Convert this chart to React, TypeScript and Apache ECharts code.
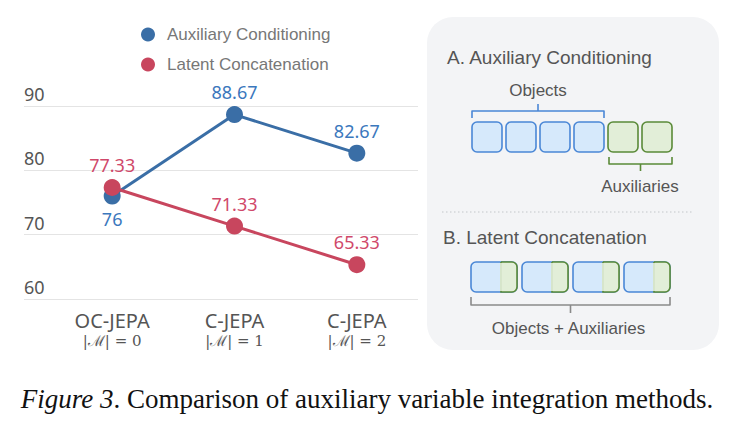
import { useEffect, useRef } from 'react';
import * as echarts from 'echarts';

// Accuracy per configuration
const categories = ['OC-JEPA', 'C-JEPA', 'C-JEPA'];
const auxiliaryCounts = [0, 1, 2];
const auxiliaryConditioning = [76, 88.67, 82.67];
const latentConcatenation = [77.33, 71.33, 65.33];
const seriesNames = ['Auxiliary Conditioning', 'Latent Concatenation'];
const yMin = 60;
const yMax = 90;
const yStep = 10;

// Token counts for the schematic panel
const objectSlots = 4;
const auxiliarySlots = 2;
const concatSlots = 4;
const panelTexts = {
  titleA: 'A. Auxiliary Conditioning',
  objects: 'Objects',
  auxiliaries: 'Auxiliaries',
  titleB: 'B. Latent Concatenation',
  combined: 'Objects + Auxiliaries',
};
const caption = 'Comparison of auxiliary variable integration methods.';

const BLUE = '#3a6ea6';
const BLUE_LABEL = '#3b78bd';
const RED = '#c8465e';
const RED_LABEL = '#d0486a';
const AXIS_TEXT = '#555555';
const SANS = '"Noto Sans", sans-serif';
const UI = '"Liberation Sans", Arial, sans-serif';
const SERIF = '"Liberation Serif", "Times New Roman", serif';

const TOKEN_BLUE_FILL = '#d6e9fb';
const TOKEN_BLUE_STROKE = '#4a87d6';
const TOKEN_GREEN_FILL = '#e2eed8';
const TOKEN_GREEN_STROKE = '#5a8a38';

function token(x: number, y: number, w: number, h: number, fill: string, stroke: string) {
  return {
    type: 'rect',
    shape: { x, y, width: w, height: h, r: 5 },
    style: { fill, stroke, lineWidth: 1.6 },
  };
}

function splitToken(x: number, y: number, w: number, h: number, split: number) {
  return [
    token(x, y, w, h, TOKEN_BLUE_FILL, TOKEN_BLUE_STROKE),
    {
      type: 'rect',
      shape: { x: x + split, y, width: w - split, height: h, r: [0, 5, 5, 0] },
      style: { fill: TOKEN_GREEN_FILL, stroke: TOKEN_GREEN_STROKE, lineWidth: 1.6 },
    },
    {
      type: 'rect',
      shape: { x: x + split - 0.9, y: y + 0.9, width: 1.8, height: h - 1.8 },
      style: { fill: TOKEN_GREEN_FILL },
    },
  ];
}

function brace(x1: number, x2: number, yEnd: number, yBar: number, yTip: number, color: string) {
  const mid = (x1 + x2) / 2;
  return [
    {
      type: 'polyline',
      shape: { points: [[x1, yEnd], [x1, yBar], [x2, yBar], [x2, yEnd]] },
      style: { stroke: color, lineWidth: 1.6, fill: null, lineJoin: 'round' },
    },
    {
      type: 'line',
      shape: { x1: mid, y1: yBar, x2: mid, y2: yTip },
      style: { stroke: color, lineWidth: 1.6 },
    },
  ];
}

function label(text: string, x: number, y: number, size: number, align = 'left') {
  return {
    type: 'text',
    x,
    y,
    style: {
      text,
      fill: AXIS_TEXT,
      fontSize: size,
      fontFamily: UI,
      align,
      verticalAlign: 'middle',
    },
  };
}

function buildPanel() {
  const els: any[] = [];
  els.push({
    type: 'rect',
    shape: { x: 427, y: 17, width: 292, height: 333, r: 26 },
    style: { fill: '#f3f4f6' },
  });
  els.push(label(panelTexts.titleA, 447, 57, 19));

  const tw = 30;
  const th = 30;
  const gap = 4;
  const rowA = 122;
  const startA = 472;
  const objEnd = startA + objectSlots * (tw + gap) - gap;
  els.push(label(panelTexts.objects, (startA + objEnd) / 2, 90, 17, 'center'));
  els.push(...brace(startA, objEnd, 118, 111, 104, TOKEN_BLUE_STROKE));
  for (let i = 0; i < objectSlots; i++) {
    els.push(token(startA + i * (tw + gap), rowA, tw, th, TOKEN_BLUE_FILL, TOKEN_BLUE_STROKE));
  }
  const auxStart = objEnd + gap;
  for (let i = 0; i < auxiliarySlots; i++) {
    els.push(token(auxStart + i * (tw + gap), rowA, tw, th, TOKEN_GREEN_FILL, TOKEN_GREEN_STROKE));
  }
  const auxEnd = auxStart + auxiliarySlots * (tw + gap) - gap;
  els.push(...brace(auxStart + 1, auxEnd, 157, 164, 171, TOKEN_GREEN_STROKE));
  els.push(label(panelTexts.auxiliaries, (auxStart + auxEnd) / 2, 186, 17, 'center'));

  els.push({
    type: 'line',
    shape: { x1: 442, y1: 212, x2: 693, y2: 212 },
    style: { stroke: '#c4c6ca', lineWidth: 1.2, lineDash: [1.5, 2.5] },
  });

  els.push(label(panelTexts.titleB, 443, 237, 19));
  const cw = 46;
  const cgap = 5;
  const rowB = 262;
  const startB = 471;
  for (let i = 0; i < concatSlots; i++) {
    els.push(...splitToken(startB + i * (cw + cgap), rowB, cw, th, 30));
  }
  const endB = startB + concatSlots * (cw + cgap) - cgap;
  els.push(...brace(startB, endB, 297, 305, 313, '#8a8a8a'));
  els.push(label(panelTexts.combined, (startB + endB) / 2 - 2, 328, 17, 'center'));

  els.push({
    type: 'text',
    x: 367,
    y: 399,
    style: {
      text: `{i|Figure 3}. ${caption}`,
      fill: '#111',
      fontSize: 27,
      fontFamily: SERIF,
      align: 'center',
      verticalAlign: 'middle',
      rich: {
        i: { fontStyle: 'italic', fontSize: 27, fontFamily: SERIF, fill: '#111' },
      },
    },
  });
  return els;
}

export default function App() {
  const ref = useRef<HTMLDivElement>(null);

  useEffect(() => {
    if (!ref.current) return;
    const chart = echarts.init(ref.current, undefined, { renderer: 'svg' });

    const xData = categories.map((c, i) => `${c} ${auxiliaryCounts[i]}`);

    const labelFor = (color: string) => ({
      show: true,
      color,
      fontSize: 18,
      fontFamily: SANS,
      distance: 5,
      formatter: (p: any) => `${p.value}`,
    });

    // A label drops below its point only where the two series nearly collide
    const placeLabel = (v: number, other: number) =>
      v < other && other - v < 5 ? 'bottom' : 'top';

    chart.setOption({
      animation: false,
      backgroundColor: '#ffffff',
      legend: {
        orient: 'vertical',
        left: 136,
        top: 21,
        icon: 'circle',
        itemWidth: 28,
        itemHeight: 14,
        itemGap: 13,
        data: seriesNames,
        textStyle: { color: '#777777', fontSize: 17, fontFamily: UI, lineHeight: 14 },
      },
      grid: [
        { left: 24, top: 106, width: 394, height: 193 },
        { left: 51, top: 106, width: 367, height: 193 },
      ],
      xAxis: [
        { gridIndex: 0, type: 'value', show: false, min: 0, max: 1 },
        {
          gridIndex: 1,
          type: 'category',
          data: xData,
          boundaryGap: true,
          axisLine: { show: false },
          axisTick: { show: false },
          axisLabel: {
            margin: 10,
            interval: 0,
            formatter: (_v: string, i: number) =>
              `{a|${categories[i]}}\n{m||ℳ| = ${auxiliaryCounts[i]}}`,
            rich: {
              a: { fontSize: 20, fontFamily: SANS, color: AXIS_TEXT, lineHeight: 22 },
              m: {
                fontSize: 15,
                fontFamily: '"DejaVu Serif", "Liberation Serif", serif',
                color: AXIS_TEXT,
                lineHeight: 20,
              },
            },
          },
        },
      ],
      yAxis: [
        {
          gridIndex: 0,
          type: 'value',
          min: yMin,
          max: yMax,
          interval: yStep,
          axisLine: { show: false },
          axisTick: { show: false },
          splitLine: { lineStyle: { color: '#e4e4e4', width: 1.2 } },
          axisLabel: {
            inside: true,
            margin: 0,
            verticalAlign: 'bottom',
            lineHeight: 18,
            padding: [0, 0, 3, 0],
            fontSize: 18,
            fontFamily: SANS,
            color: AXIS_TEXT,
          },
        },
        {
          gridIndex: 1,
          type: 'value',
          min: yMin,
          max: yMax,
          interval: yStep,
          show: false,
          splitLine: { show: false },
        },
      ],
      series: [
        {
          name: seriesNames[0],
          type: 'line',
          xAxisIndex: 1,
          yAxisIndex: 1,
          symbol: 'circle',
          symbolSize: 17,
          color: BLUE,
          lineStyle: { color: BLUE, width: 3 },
          itemStyle: { color: BLUE },
          data: auxiliaryConditioning.map((v, i) => ({
            value: v,
            label: { position: placeLabel(v, latentConcatenation[i]) },
          })),
          label: labelFor(BLUE_LABEL),
          z: 2,
        },
        {
          name: seriesNames[1],
          type: 'line',
          xAxisIndex: 1,
          yAxisIndex: 1,
          symbol: 'circle',
          symbolSize: 17,
          color: RED,
          lineStyle: { color: RED, width: 3 },
          itemStyle: { color: RED },
          data: latentConcatenation.map((v, i) => ({
            value: v,
            label: { position: placeLabel(v, auxiliaryConditioning[i]) },
          })),
          label: labelFor(RED_LABEL),
          z: 3,
        },
      ],
      graphic: buildPanel(),
    });

    return () => chart.dispose();
  }, []);

  return (
    <div
      ref={ref}
      style={{ position: 'fixed', left: 0, top: 0, width: 731, height: 428, background: '#fff' }}
    />
  );
}
